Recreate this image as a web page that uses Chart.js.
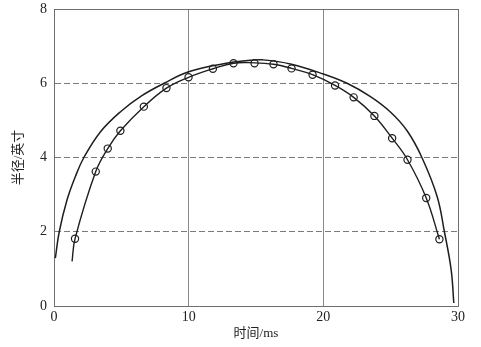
<!DOCTYPE html>
<html>
<head>
<meta charset="utf-8">
<script src="https://cdn.jsdelivr.net/npm/chart.js@4"></script>
<style>
  html, body { margin: 0; padding: 0; background: #ffffff; }
  #wrap { width: 481px; height: 347px; }
</style>
</head>
<body>
<div id="wrap"><canvas id="c" width="481" height="347"></canvas></div>
<script>
// measured points (time in ms, radius in inches)
const markerTime = [1.56, 3.10, 3.99, 4.93, 6.67, 8.35, 9.99, 11.80, 13.33, 14.89, 16.30, 17.64, 19.20, 20.87, 22.25, 23.79, 25.11, 26.25, 27.64, 28.62];
const markerRadius = [1.81, 3.62, 4.24, 4.72, 5.37, 5.87, 6.16, 6.39, 6.54, 6.54, 6.51, 6.40, 6.23, 5.94, 5.62, 5.12, 4.52, 3.94, 2.91, 1.80];

// fitted curve through the measured points
const fitTime = [1.34, 1.56, 3.10, 3.99, 4.93, 6.67, 8.35, 9.99, 11.80, 13.33, 14.89, 16.30, 17.64, 19.20, 20.87, 22.25, 23.79, 25.11, 26.25, 27.64, 28.62];
const fitRadius = [1.20, 1.81, 3.62, 4.24, 4.72, 5.37, 5.87, 6.16, 6.39, 6.54, 6.55, 6.51, 6.40, 6.23, 5.94, 5.62, 5.12, 4.52, 3.94, 2.91, 1.80];

// outer (theoretical) curve
const outerTime = [0.10, 0.39, 0.97, 1.59, 2.22, 3.47, 4.96, 6.50, 8.18, 10.00, 12.50, 14.60, 15.50, 17.55, 20.00, 21.76, 23.50, 25.00, 26.22, 27.32, 28.45, 28.99, 29.49, 29.69];
const outerRadius = [1.29, 2.00, 2.86, 3.49, 4.00, 4.70, 5.24, 5.66, 6.00, 6.31, 6.52, 6.62, 6.63, 6.52, 6.25, 6.00, 5.64, 5.22, 4.72, 4.00, 2.95, 2.00, 0.98, 0.08];

// axes
const xTicks = [0, 10, 20, 30];
const yTicks = [0, 2, 4, 6, 8];
const xTitle = '时间/ms';
const yTitle = '半径/英寸';

const toXY = (xs, ys) => xs.map((x, i) => ({ x: x, y: ys[i] }));

const framePlugin = {
  id: 'frame',
  beforeDatasetsDraw(chart) {
    const a = chart.chartArea, ctx = chart.ctx;
    ctx.save();
    ctx.strokeStyle = '#6e6e6e';
    ctx.lineWidth = 1;
    ctx.setLineDash([]);
    ctx.strokeRect(Math.round(a.left) + 0.5, Math.round(a.top) + 0.5,
                   Math.round(a.right) - Math.round(a.left), Math.round(a.bottom) - Math.round(a.top));
    ctx.restore();
  }
};

const serif = '"Liberation Serif", "Noto Sans CJK SC", serif';

new Chart(document.getElementById('c'), {
  type: 'scatter',
  data: {
    datasets: [
      {
        label: 'outer',
        data: toXY(outerTime, outerRadius),
        showLine: true,
        borderColor: '#1e1e1e',
        borderWidth: 1.5,
        pointRadius: 0,
        tension: 0.4,
        fill: false
      },
      {
        label: 'fit',
        data: toXY(fitTime, fitRadius),
        showLine: true,
        borderColor: '#1e1e1e',
        borderWidth: 1.4,
        pointRadius: 0,
        tension: 0.4,
        fill: false
      },
      {
        label: 'measured',
        data: toXY(markerTime, markerRadius),
        showLine: false,
        pointRadius: 3.6,
        pointBackgroundColor: '#ffffff',
        pointBorderColor: '#1e1e1e',
        pointBorderWidth: 1.2
      }
    ]
  },
  options: {
    responsive: false,
    animation: false,
    devicePixelRatio: 1,
    layout: { padding: { left: 0, right: 23, top: 9, bottom: 0 } },
    plugins: {
      legend: { display: false },
      tooltip: { enabled: false }
    },
    scales: {
      x: {
        type: 'linear',
        min: 0,
        max: 30,
        afterBuildTicks: (s) => { s.ticks = xTicks.map(v => ({ value: v })); },
        afterFit: (s) => { s.height = 41; s.paddingLeft = 0; s.paddingRight = 0; },
        ticks: {
          padding: 3,
          color: '#222',
          font: { family: serif, size: 14 },
          maxRotation: 0
        },
        grid: { color: '#8a8a8a', lineWidth: 1, drawTicks: false },
        border: { display: true, color: '#6e6e6e', width: 1 },
        title: {
          display: true,
          text: xTitle,
          color: '#222',
          font: { family: serif, size: 13 },
          padding: { top: 0, bottom: 6 }
        }
      },
      y: {
        type: 'linear',
        min: 0,
        max: 8,
        afterBuildTicks: (s) => { s.ticks = yTicks.map(v => ({ value: v })); },
        afterFit: (s) => { s.width = 54; s.paddingTop = 0; s.paddingBottom = 0; },
        ticks: {
          padding: 7,
          color: '#222',
          font: { family: serif, size: 14 }
        },
        grid: { color: '#7a7a7a', lineWidth: 1, drawTicks: false },
        border: {
          display: true, color: '#6e6e6e', width: 1,
          dash: (c) => (c.tick && c.tick.value > 0 && c.tick.value < 8) ? [6, 3] : []
        },
        title: {
          display: true,
          text: yTitle,
          color: '#222',
          font: { family: serif, size: 13 },
          padding: { top: 11, bottom: 0 }
        }
      }
    }
  },
  plugins: [framePlugin]
});
</script>
</body>
</html>
